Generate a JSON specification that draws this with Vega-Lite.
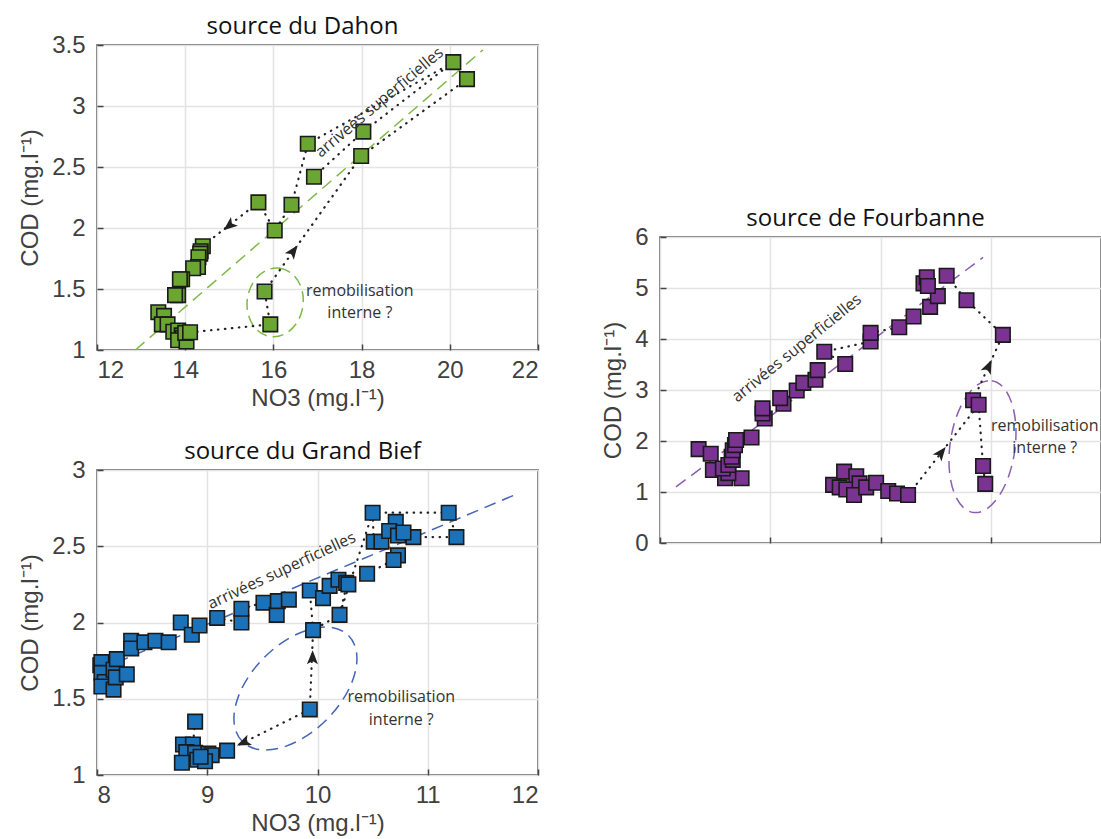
{
  "$schema": "https://vega.github.io/schema/vega-lite/v6.json",
  "background": "white",
  "padding": {"left": 17, "top": 14, "right": 0, "bottom": 0},
  "autosize": {"type": "pad"},
  "config": {
    "view": {"stroke": "#444444", "strokeWidth": 1.5},
    "axis": {"labelFont": "Liberation Sans", "labelFontSize": 24, "labelColor": "#404040", "titleFont": "Liberation Sans", "titleFontSize": 24, "titleFontWeight": "normal", "titleColor": "#404040", "gridColor": "#e3e3e3", "gridWidth": 1.5, "domain": false, "ticks": true, "tickSize": -6, "tickColor": "#444444", "tickWidth": 1.5},
    "axisX": {"labelPadding": 14, "titlePadding": 4, "labelFontSize": 24, "titleFontSize": 24},
    "axisY": {"labelPadding": 18, "titlePadding": 9, "labelFontSize": 24, "titleFontSize": 24},
    "title": {"font": "Open Sans", "fontSize": 24, "fontWeight": "normal", "color": "#111111", "offset": -6, "dx": -15, "frame": "group", "baseline": "alphabetic"}
  },
  "datasets": {
    "d_pts": [
      {"no3": 14.40, "cod": 1.85}, {"no3": 14.35, "cod": 1.81}, {"no3": 14.34, "cod": 1.79}, {"no3": 14.30, "cod": 1.76},
      {"no3": 14.29, "cod": 1.68}, {"no3": 14.18, "cod": 1.67}, {"no3": 13.93, "cod": 1.58}, {"no3": 13.88, "cod": 1.58},
      {"no3": 13.84, "cod": 1.45}, {"no3": 13.77, "cod": 1.45}, {"no3": 13.39, "cod": 1.31}, {"no3": 13.52, "cod": 1.28},
      {"no3": 13.47, "cod": 1.21}, {"no3": 13.60, "cod": 1.21}, {"no3": 13.73, "cod": 1.15}, {"no3": 13.84, "cod": 1.16},
      {"no3": 13.92, "cod": 1.12}, {"no3": 13.95, "cod": 1.10}, {"no3": 13.84, "cod": 1.08}, {"no3": 14.03, "cod": 1.07},
      {"no3": 14.00, "cod": 1.14}, {"no3": 14.11, "cod": 1.145},
      {"no3": 15.93, "cod": 1.21}, {"no3": 15.80, "cod": 1.48}, {"no3": 16.03, "cod": 1.98}, {"no3": 15.66, "cod": 2.21},
      {"no3": 16.41, "cod": 2.19}, {"no3": 16.92, "cod": 2.42}, {"no3": 16.78, "cod": 2.69}, {"no3": 17.99, "cod": 2.59},
      {"no3": 18.04, "cod": 2.79}, {"no3": 20.39, "cod": 3.22}, {"no3": 20.08, "cod": 3.36}
    ],
    "d_paths": [
      {"seg": 1, "ord": 1, "no3": 14.11, "cod": 1.145}, {"seg": 1, "ord": 2, "no3": 15.93, "cod": 1.21}, {"seg": 1, "ord": 3, "no3": 15.80, "cod": 1.48}, {"seg": 1, "ord": 4, "no3": 17.99, "cod": 2.59}, {"seg": 1, "ord": 5, "no3": 20.39, "cod": 3.22},
      {"seg": 2, "ord": 1, "no3": 20.08, "cod": 3.36}, {"seg": 2, "ord": 2, "no3": 16.78, "cod": 2.69}, {"seg": 2, "ord": 3, "no3": 16.41, "cod": 2.19},
      {"seg": 3, "ord": 1, "no3": 20.08, "cod": 3.36}, {"seg": 3, "ord": 2, "no3": 18.04, "cod": 2.79}, {"seg": 3, "ord": 3, "no3": 16.92, "cod": 2.42},
      {"seg": 4, "ord": 1, "no3": 16.41, "cod": 2.19}, {"seg": 4, "ord": 2, "no3": 16.03, "cod": 1.98}, {"seg": 4, "ord": 3, "no3": 15.66, "cod": 2.21}, {"seg": 4, "ord": 4, "no3": 14.42, "cod": 1.86}
    ],
    "d_trend": [{"no3": 12.87, "cod": 1.0}, {"no3": 20.75, "cod": 3.46}],
    "g_pts": [
      {"no3": 8.03, "cod": 1.72}, {"no3": 8.04, "cod": 1.74}, {"no3": 8.04, "cod": 1.67}, {"no3": 8.07, "cod": 1.61}, {"no3": 8.04, "cod": 1.58},
      {"no3": 8.15, "cod": 1.56}, {"no3": 8.15, "cod": 1.69}, {"no3": 8.17, "cod": 1.64}, {"no3": 8.18, "cod": 1.76}, {"no3": 8.27, "cod": 1.66},
      {"no3": 8.31, "cod": 1.88}, {"no3": 8.31, "cod": 1.83}, {"no3": 8.43, "cod": 1.87}, {"no3": 8.53, "cod": 1.88}, {"no3": 8.65, "cod": 1.87},
      {"no3": 8.76, "cod": 2.00}, {"no3": 8.86, "cod": 1.92}, {"no3": 8.93, "cod": 1.98}, {"no3": 9.09, "cod": 2.03}, {"no3": 9.31, "cod": 2.00},
      {"no3": 9.31, "cod": 2.09}, {"no3": 9.51, "cod": 2.13}, {"no3": 9.63, "cod": 2.05}, {"no3": 9.64, "cod": 2.14}, {"no3": 9.74, "cod": 2.15},
      {"no3": 9.93, "cod": 2.21}, {"no3": 10.05, "cod": 2.16}, {"no3": 10.11, "cod": 2.24}, {"no3": 10.19, "cod": 2.28}, {"no3": 10.26, "cod": 2.26},
      {"no3": 10.28, "cod": 2.25}, {"no3": 10.45, "cod": 2.32}, {"no3": 10.20, "cod": 2.05}, {"no3": 9.96, "cod": 1.95},
      {"no3": 10.73, "cod": 2.44}, {"no3": 10.69, "cod": 2.41}, {"no3": 10.51, "cod": 2.53}, {"no3": 10.58, "cod": 2.53},
      {"no3": 10.71, "cod": 2.66}, {"no3": 10.65, "cod": 2.60}, {"no3": 10.87, "cod": 2.56}, {"no3": 10.73, "cod": 2.57}, {"no3": 10.78, "cod": 2.59},
      {"no3": 10.50, "cod": 2.72}, {"no3": 11.19, "cod": 2.72}, {"no3": 11.26, "cod": 2.56},
      {"no3": 9.93, "cod": 1.43},
      {"no3": 8.89, "cod": 1.35}, {"no3": 8.78, "cod": 1.20}, {"no3": 8.87, "cod": 1.20}, {"no3": 8.81, "cod": 1.15}, {"no3": 8.89, "cod": 1.145},
      {"no3": 8.91, "cod": 1.10}, {"no3": 8.77, "cod": 1.08}, {"no3": 9.01, "cod": 1.14}, {"no3": 9.04, "cod": 1.13}, {"no3": 8.98, "cod": 1.09},
      {"no3": 8.94, "cod": 1.12}, {"no3": 9.18, "cod": 1.16}
    ],
    "g_paths": [
      {"seg": 1, "ord": 1, "no3": 9.18, "cod": 1.16}, {"seg": 1, "ord": 2, "no3": 9.93, "cod": 1.43}, {"seg": 1, "ord": 3, "no3": 9.96, "cod": 1.95}, {"seg": 1, "ord": 4, "no3": 10.20, "cod": 2.05}, {"seg": 1, "ord": 5, "no3": 10.27, "cod": 2.26},
      {"seg": 2, "ord": 1, "no3": 10.45, "cod": 2.32}, {"seg": 2, "ord": 2, "no3": 10.69, "cod": 2.41},
      {"seg": 3, "ord": 1, "no3": 10.51, "cod": 2.53}, {"seg": 3, "ord": 2, "no3": 10.50, "cod": 2.72}, {"seg": 3, "ord": 3, "no3": 11.19, "cod": 2.72}, {"seg": 3, "ord": 4, "no3": 11.26, "cod": 2.56}, {"seg": 3, "ord": 5, "no3": 10.87, "cod": 2.56},
      {"seg": 4, "ord": 1, "no3": 10.50, "cod": 2.72}, {"seg": 4, "ord": 2, "no3": 10.20, "cod": 2.05},
      {"seg": 5, "ord": 1, "no3": 9.31, "cod": 2.09}, {"seg": 5, "ord": 2, "no3": 9.51, "cod": 2.13},
      {"seg": 6, "ord": 1, "no3": 9.09, "cod": 2.03}, {"seg": 6, "ord": 2, "no3": 9.31, "cod": 2.00},
      {"seg": 7, "ord": 1, "no3": 9.96, "cod": 1.95}, {"seg": 7, "ord": 2, "no3": 9.93, "cod": 2.21},
      {"seg": 8, "ord": 1, "no3": 8.89, "cod": 1.35}, {"seg": 8, "ord": 2, "no3": 8.87, "cod": 1.20}
    ],
    "g_trend": [{"no3": 8.02, "cod": 1.69}, {"no3": 11.80, "cod": 2.84}],
    "f_pts": [
      {"x": 0.35, "cod": 1.84}, {"x": 0.46, "cod": 1.75}, {"x": 0.48, "cod": 1.43}, {"x": 0.59, "cod": 1.27}, {"x": 0.74, "cod": 1.27},
      {"x": 0.62, "cod": 1.37}, {"x": 0.57, "cod": 1.46}, {"x": 0.62, "cod": 1.53}, {"x": 0.66, "cod": 1.63}, {"x": 0.65, "cod": 1.69},
      {"x": 0.66, "cod": 1.82}, {"x": 0.68, "cod": 1.92}, {"x": 0.69, "cod": 2.02}, {"x": 0.83, "cod": 2.07},
      {"x": 0.95, "cod": 2.44}, {"x": 0.93, "cod": 2.54}, {"x": 0.93, "cod": 2.64}, {"x": 1.12, "cod": 2.73}, {"x": 1.09, "cod": 2.84},
      {"x": 1.24, "cod": 2.99}, {"x": 1.30, "cod": 3.14}, {"x": 1.41, "cod": 3.20}, {"x": 1.43, "cod": 3.39}, {"x": 1.68, "cod": 3.51},
      {"x": 1.49, "cod": 3.75}, {"x": 1.91, "cod": 3.95}, {"x": 1.91, "cod": 4.12}, {"x": 2.17, "cod": 4.23}, {"x": 2.30, "cod": 4.44},
      {"x": 2.45, "cod": 4.63}, {"x": 2.52, "cod": 4.84}, {"x": 2.39, "cod": 5.09}, {"x": 2.42, "cod": 5.21}, {"x": 2.43, "cod": 5.04},
      {"x": 2.60, "cod": 5.24}, {"x": 2.78, "cod": 4.76}, {"x": 3.11, "cod": 4.08},
      {"x": 1.57, "cod": 1.14}, {"x": 1.67, "cod": 1.40}, {"x": 1.78, "cod": 1.31}, {"x": 1.63, "cod": 1.09}, {"x": 1.69, "cod": 1.05},
      {"x": 1.81, "cod": 1.17}, {"x": 1.76, "cod": 0.94}, {"x": 1.87, "cod": 1.09}, {"x": 1.96, "cod": 1.18}, {"x": 2.07, "cod": 1.02},
      {"x": 2.15, "cod": 0.97}, {"x": 2.25, "cod": 0.94},
      {"x": 2.84, "cod": 2.80}, {"x": 2.89, "cod": 2.71}, {"x": 2.93, "cod": 1.51}, {"x": 2.95, "cod": 1.16}
    ],
    "f_paths": [
      {"seg": 1, "ord": 1, "x": 1.68, "cod": 3.51}, {"seg": 1, "ord": 2, "x": 1.49, "cod": 3.75}, {"seg": 1, "ord": 3, "x": 1.91, "cod": 3.95},
      {"seg": 2, "ord": 1, "x": 1.91, "cod": 4.12}, {"seg": 2, "ord": 2, "x": 2.17, "cod": 4.23},
      {"seg": 3, "ord": 1, "x": 2.60, "cod": 5.24}, {"seg": 3, "ord": 2, "x": 2.78, "cod": 4.76}, {"seg": 3, "ord": 3, "x": 3.11, "cod": 4.08}, {"seg": 3, "ord": 4, "x": 2.84, "cod": 2.80},
      {"seg": 4, "ord": 1, "x": 2.25, "cod": 0.94}, {"seg": 4, "ord": 2, "x": 2.89, "cod": 2.71},
      {"seg": 5, "ord": 1, "x": 2.89, "cod": 2.71}, {"seg": 5, "ord": 2, "x": 2.93, "cod": 1.51}, {"seg": 5, "ord": 3, "x": 2.95, "cod": 1.16}
    ],
    "f_trend": [{"x": 0.145, "cod": 1.10}, {"x": 2.93, "cod": 5.60}]
  },
  "hconcat": [
    {
      "bounds": "flush",
      "spacing": 120,
      "vconcat": [
        {
          "width": 441, "height": 305,
          "title": {"text": "source du Dahon"},
          "encoding": {
            "x": {"field": "no3", "type": "quantitative", "scale": {"domain": [12, 22], "nice": false, "zero": false}, "axis": {"values": [12, 14, 16, 18, 20, 22], "title": "NO3 (mg.l⁻¹)", "format": "~g"}},
            "y": {"field": "cod", "type": "quantitative", "scale": {"domain": [1, 3.5], "nice": false, "zero": false}, "axis": {"values": [1, 1.5, 2, 2.5, 3, 3.5], "title": "COD (mg.l⁻¹)", "format": "~g"}}
          },
          "layer": [
            {"data": {"name": "d_trend"}, "mark": {"type": "line", "color": "#7fba45", "strokeWidth": 1.5, "strokeDash": [12, 7]}},
            {"data": {"values": [{"no3": 16.04, "cod": 1.39}]}, "mark": {"type": "point", "shape": "M0,-1 C0.4482,-1 0.8115,-0.5523 0.8115,0 C0.8115,0.5523 0.4482,1 0,1 C-0.4482,1 -0.8115,0.5523 -0.8115,0 C-0.8115,-0.5523 -0.4482,-1 0,-1 Z", "size": 4761, "angle": 8, "filled": false, "stroke": "#7fba45", "strokeWidth": 1.5, "strokeDash": [11, 6], "opacity": 1}},
            {"data": {"name": "d_paths"}, "mark": {"type": "line", "color": "#222222", "strokeWidth": 2.2, "strokeCap": "round", "strokeDash": [0.5, 6.5]}, "encoding": {"detail": {"field": "seg"}, "order": {"field": "ord"}}},
            {"data": {"values": [{"no3": 15.0, "cod": 2.02}]}, "mark": {"type": "point", "shape": "M0,-1 L0.75,0.9 L0,0.45 L-0.75,0.9 Z", "size": 220, "angle": 231, "filled": true, "color": "#222222", "opacity": 1}},
            {"data": {"values": [{"no3": 16.45, "cod": 1.81}]}, "mark": {"type": "point", "shape": "M0,-1 L0.75,0.9 L0,0.45 L-0.75,0.9 Z", "size": 220, "angle": 36, "filled": true, "color": "#222222", "opacity": 1}},
            {"data": {"name": "d_pts"}, "mark": {"type": "square", "filled": true, "color": "#6ba532", "stroke": "#1a1a1a", "strokeWidth": 1.6, "size": 210, "opacity": 1}},
            {"data": {"values": [{"no3": 18.40, "cod": 3.03, "label": "arrivées superficielles"}]}, "mark": {"type": "text", "angle": -40, "font": "Open Sans", "fontSize": 16, "color": "#333333", "align": "center", "baseline": "middle"}, "encoding": {"text": {"field": "label"}}},
            {"data": {"values": [{"no3": 17.96, "cod": 1.48, "label": "remobilisation"}, {"no3": 17.96, "cod": 1.30, "label": "interne ?"}]}, "mark": {"type": "text", "font": "Open Sans", "fontSize": 16, "color": "#333333", "align": "center", "baseline": "middle"}, "encoding": {"text": {"field": "label"}}}
          ]
        },
        {
          "width": 441, "height": 305,
          "title": {"text": "source du Grand Bief"},
          "encoding": {
            "x": {"field": "no3", "type": "quantitative", "scale": {"domain": [8, 12], "nice": false, "zero": false}, "axis": {"values": [8, 9, 10, 11, 12], "title": "NO3 (mg.l⁻¹)", "format": "~g"}},
            "y": {"field": "cod", "type": "quantitative", "scale": {"domain": [1, 3], "nice": false, "zero": false}, "axis": {"values": [1, 1.5, 2, 2.5, 3], "title": "COD (mg.l⁻¹)", "format": "~g"}}
          },
          "layer": [
            {"data": {"name": "g_trend"}, "mark": {"type": "line", "color": "#4466b8", "strokeWidth": 1.5, "strokeDash": [12, 7]}},
            {"data": {"values": [{"no3": 9.80, "cod": 1.567}]}, "mark": {"type": "point", "shape": "M0,-1 C0.3242,-1 0.587,-0.5523 0.587,0 C0.587,0.5523 0.3242,1 0,1 C-0.3242,1 -0.587,0.5523 -0.587,0 C-0.587,-0.5523 -0.3242,-1 0,-1 Z", "size": 22500, "angle": 45, "filled": false, "stroke": "#4466b8", "strokeWidth": 1.5, "strokeDash": [12, 7], "opacity": 1}},
            {"data": {"name": "g_paths"}, "mark": {"type": "line", "color": "#222222", "strokeWidth": 2.2, "strokeCap": "round", "strokeDash": [0.5, 6.5]}, "encoding": {"detail": {"field": "seg"}, "order": {"field": "ord"}}},
            {"data": {"values": [{"no3": 9.33, "cod": 1.213}]}, "mark": {"type": "point", "shape": "M0,-1 L0.75,0.9 L0,0.45 L-0.75,0.9 Z", "size": 220, "angle": 246, "filled": true, "color": "#222222", "opacity": 1}},
            {"data": {"values": [{"no3": 9.955, "cod": 1.77}]}, "mark": {"type": "point", "shape": "M0,-1 L0.75,0.9 L0,0.45 L-0.75,0.9 Z", "size": 220, "angle": 1, "filled": true, "color": "#222222", "opacity": 1}},
            {"data": {"name": "g_pts"}, "mark": {"type": "square", "filled": true, "color": "#1b72b8", "stroke": "#1a1a1a", "strokeWidth": 1.6, "size": 210, "opacity": 1}},
            {"data": {"values": [{"no3": 9.675, "cod": 2.34, "label": "arrivées superficielles"}]}, "mark": {"type": "text", "angle": -25, "font": "Open Sans", "fontSize": 16, "color": "#333333", "align": "center", "baseline": "middle"}, "encoding": {"text": {"field": "label"}}},
            {"data": {"values": [{"no3": 10.76, "cod": 1.51, "label": "remobilisation"}, {"no3": 10.76, "cod": 1.36, "label": "interne ?"}]}, "mark": {"type": "text", "font": "Open Sans", "fontSize": 16, "color": "#333333", "align": "center", "baseline": "middle"}, "encoding": {"text": {"field": "label"}}}
          ]
        }
      ]
    },
    {
      "bounds": "flush",
      "spacing": 0,
      "vconcat": [
        {"width": 441, "height": 192, "view": {"stroke": null}, "data": {"values": []}, "mark": "point", "encoding": {}},
        {
          "width": 441, "height": 306,
          "title": {"text": "source de Fourbanne"},
          "encoding": {
            "x": {"field": "x", "type": "quantitative", "scale": {"domain": [0, 4], "nice": false, "zero": false}, "axis": {"values": [0, 1, 2, 3, 4], "labels": false, "title": null}},
            "y": {"field": "cod", "type": "quantitative", "scale": {"domain": [0, 6], "nice": false, "zero": false}, "axis": {"values": [0, 1, 2, 3, 4, 5, 6], "title": "COD (mg.l⁻¹)", "format": "~g"}}
          },
          "layer": [
            {"data": {"name": "f_trend"}, "mark": {"type": "line", "color": "#8b5fae", "strokeWidth": 1.5, "strokeDash": [12, 7]}},
            {"data": {"values": [{"x": 2.925, "cod": 1.89}]}, "mark": {"type": "point", "shape": "M0,-1 C0.2701,-1 0.489,-0.5523 0.489,0 C0.489,0.5523 0.2701,1 0,1 C-0.2701,1 -0.489,0.5523 -0.489,0 C-0.489,-0.5523 -0.2701,-1 0,-1 Z", "size": 17689, "angle": 8, "filled": false, "stroke": "#8b5fae", "strokeWidth": 1.5, "strokeDash": [12, 7], "opacity": 1}},
            {"data": {"name": "f_paths"}, "mark": {"type": "line", "color": "#222222", "strokeWidth": 2.2, "strokeCap": "round", "strokeDash": [0.5, 6.5]}, "encoding": {"detail": {"field": "seg"}, "order": {"field": "ord"}}},
            {"data": {"values": [{"x": 2.55, "cod": 1.77}]}, "mark": {"type": "point", "shape": "M0,-1 L0.75,0.9 L0,0.45 L-0.75,0.9 Z", "size": 220, "angle": 38, "filled": true, "color": "#222222", "opacity": 1}},
            {"data": {"values": [{"x": 2.98, "cod": 3.46}]}, "mark": {"type": "point", "shape": "M0,-1 L0.75,0.9 L0,0.45 L-0.75,0.9 Z", "size": 220, "angle": 25, "filled": true, "color": "#222222", "opacity": 1}},
            {"data": {"name": "f_pts"}, "mark": {"type": "square", "filled": true, "color": "#7a3391", "stroke": "#1a1a1a", "strokeWidth": 1.6, "size": 210, "opacity": 1}},
            {"data": {"values": [{"x": 1.24, "cod": 3.82, "label": "arrivées superficielles"}]}, "mark": {"type": "text", "angle": -39, "font": "Open Sans", "fontSize": 16, "color": "#333333", "align": "center", "baseline": "middle"}, "encoding": {"text": {"field": "label"}}},
            {"data": {"values": [{"x": 3.49, "cod": 2.29, "label": "remobilisation"}, {"x": 3.49, "cod": 1.86, "label": "interne ?"}]}, "mark": {"type": "text", "font": "Open Sans", "fontSize": 16, "color": "#333333", "align": "center", "baseline": "middle"}, "encoding": {"text": {"field": "label"}}}
          ]
        }
      ]
    }
  ],
  "spacing": 60
}
